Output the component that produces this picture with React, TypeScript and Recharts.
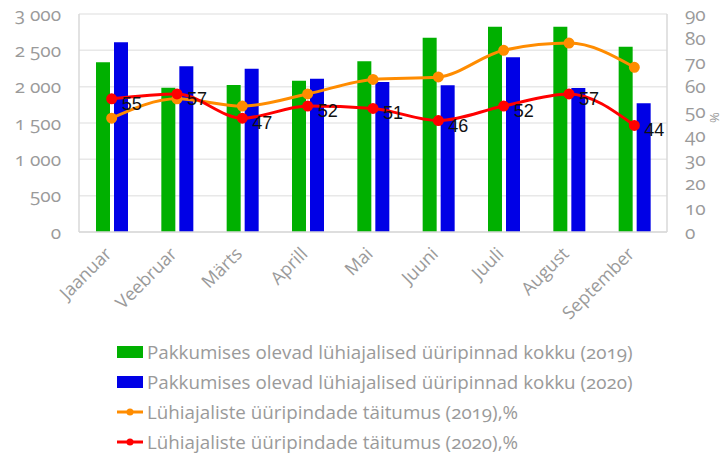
import React from "react"
import {
  ComposedChart,
  Bar,
  Line,
  XAxis,
  YAxis,
  CartesianGrid,
  Legend,
  LabelList,
} from "recharts"

const months = ["Jaanuar", "Veebruar", "Märts", "Aprill", "Mai", "Juuni", "Juuli", "August", "September"]
const offer2019 = [2335, 1986, 2023, 2082, 2349, 2674, 2826, 2826, 2550]
const offer2020 = [2610, 2280, 2247, 2110, 2064, 2018, 2404, 1982, 1771]
const occupancy2019 = [47, 55, 52, 57, 63, 64, 75, 78, 68]
const occupancy2020 = [55, 57, 47, 52, 51, 46, 52, 57, 44]

const leftTicks = [0, 500, 1000, 1500, 2000, 2500, 3000]
const rightTicks = [0, 10, 20, 30, 40, 50, 60, 70, 80, 90]

const seriesNames = [
  "Pakkumises olevad lühiajalised üüripinnad kokku (2019)",
  "Pakkumises olevad lühiajalised üüripinnad kokku (2020)",
  "Lühiajaliste üüripindade täitumus (2019),%",
  "Lühiajaliste üüripindade täitumus (2020),%",
]

const data = months.map((m, i) => ({
  month: m,
  o19: offer2019[i],
  o20: offer2020[i],
  t19: occupancy2019[i],
  t20: occupancy2020[i],
}))

const GREEN = "#00b000"
const BLUE = "#0000e6"
const ORANGE = "#ff8c00"
const RED = "#ff0000"
const GRAY = "#9a9a9a"
const FONT = "'Open Sans', sans-serif"

const fmtThousands = (v: number) => String(v).replace(/\B(?=(\d{3})+(?!\d))/g, " ")

function MonthTick(props: any) {
  const { x, y, payload } = props
  return (
    <g transform={`translate(${x + 1},${y + 15})`}>
      <text x={0} y={0} textAnchor="end" transform="rotate(-45)" fill={GRAY} fontSize={18} fontFamily={FONT}>
        {payload.value}
      </text>
    </g>
  )
}

function RedLabel(props: any) {
  const { x, y, value } = props
  return (
    <text
      x={x + 10}
      y={y + 11}
      fontSize={18}
      fontFamily="'Liberation Sans', Arial, sans-serif"
      fill="#111"
      style={{ fontVariantNumeric: "normal" }}
    >
      {value}
    </text>
  )
}

function LegendBox() {
  const items = [
    { color: GREEN, type: "rect" },
    { color: BLUE, type: "rect" },
    { color: ORANGE, type: "line" },
    { color: RED, type: "line" },
  ]
  return (
    <div style={{ paddingLeft: 117, paddingTop: 3, fontFamily: FONT, color: GRAY, fontSize: 18.8, lineHeight: "30px" }}>
      {items.map((it, i) => (
        <div key={i} style={{ height: 30, display: "flex", alignItems: "center", whiteSpace: "nowrap" }}>
          <svg width={28} height={14} style={{ marginRight: 2, flex: "none" }}>
            {it.type === "rect" ? (
              <rect x={0} y={1} width={26} height={12} fill={it.color} />
            ) : (
              <g>
                <line x1={0} y1={7} x2={26} y2={7} stroke={it.color} strokeWidth={3} />
                <circle cx={13} cy={7} r={3.5} fill={it.color} />
              </g>
            )}
          </svg>
          <span>{seriesNames[i]}</span>
        </div>
      ))}
    </div>
  )
}

export default function App() {
  const tickStyle = { fill: GRAY, fontSize: 19, fontFamily: FONT }
  return (
    <div style={{ position: "absolute", left: 0, top: 0, background: "#fff", fontVariantNumeric: "oldstyle-nums" }}>
      <ComposedChart
        width={723}
        height={459}
        data={data}
        margin={{ top: 14, right: 0, bottom: 0, left: 0 }}
        barCategoryGap="24%"
        barGap={4}
      >
        <CartesianGrid vertical={false} stroke="#e8e8e8" strokeWidth={1.5} yAxisId="left" />
        <XAxis
          dataKey="month"
          height={102}
          interval={0}
          tickLine={false}
          axisLine={{ stroke: "#d9d9d9", strokeWidth: 1.5 }}
          tick={<MonthTick />}
        />
        <YAxis
          yAxisId="left"
          width={79}
          domain={[0, 3000]}
          ticks={leftTicks}
          interval={0}
          tickFormatter={fmtThousands}
          tickLine={false}
          tickMargin={12}
          axisLine={{ stroke: "#d9d9d9", strokeWidth: 1.5 }}
          tick={tickStyle}
        />
        <YAxis
          yAxisId="right"
          orientation="right"
          width={56}
          domain={[0, 90]}
          ticks={rightTicks}
          interval={0}
          tickLine={false}
          tickMargin={12}
          axisLine={{ stroke: "#d9d9d9", strokeWidth: 1.5 }}
          tick={tickStyle}
          label={{ value: "%", angle: 90, position: "insideRight", offset: 8, fill: GRAY, fontSize: 13, fontFamily: FONT }}
        />
        <Bar yAxisId="left" dataKey="o19" name={seriesNames[0]} fill={GREEN} barSize={14} isAnimationActive={false} />
        <Bar yAxisId="left" dataKey="o20" name={seriesNames[1]} fill={BLUE} barSize={14} isAnimationActive={false} />
        <Line
          yAxisId="right"
          type="monotone"
          dataKey="t19"
          name={seriesNames[2]}
          stroke={ORANGE}
          strokeWidth={3}
          dot={{ r: 4, fill: ORANGE, stroke: ORANGE }}
          isAnimationActive={false}
        />
        <Line
          yAxisId="right"
          type="monotone"
          dataKey="t20"
          name={seriesNames[3]}
          stroke={RED}
          strokeWidth={3}
          dot={{ r: 4, fill: RED, stroke: RED }}
          isAnimationActive={false}
        >
          <LabelList dataKey="t20" content={<RedLabel />} />
        </Line>
        <Legend
          verticalAlign="bottom"
          height={125}
          wrapperStyle={{ left: 0, width: 723 }}
          content={() => <LegendBox />}
        />
      </ComposedChart>
    </div>
  )
}
